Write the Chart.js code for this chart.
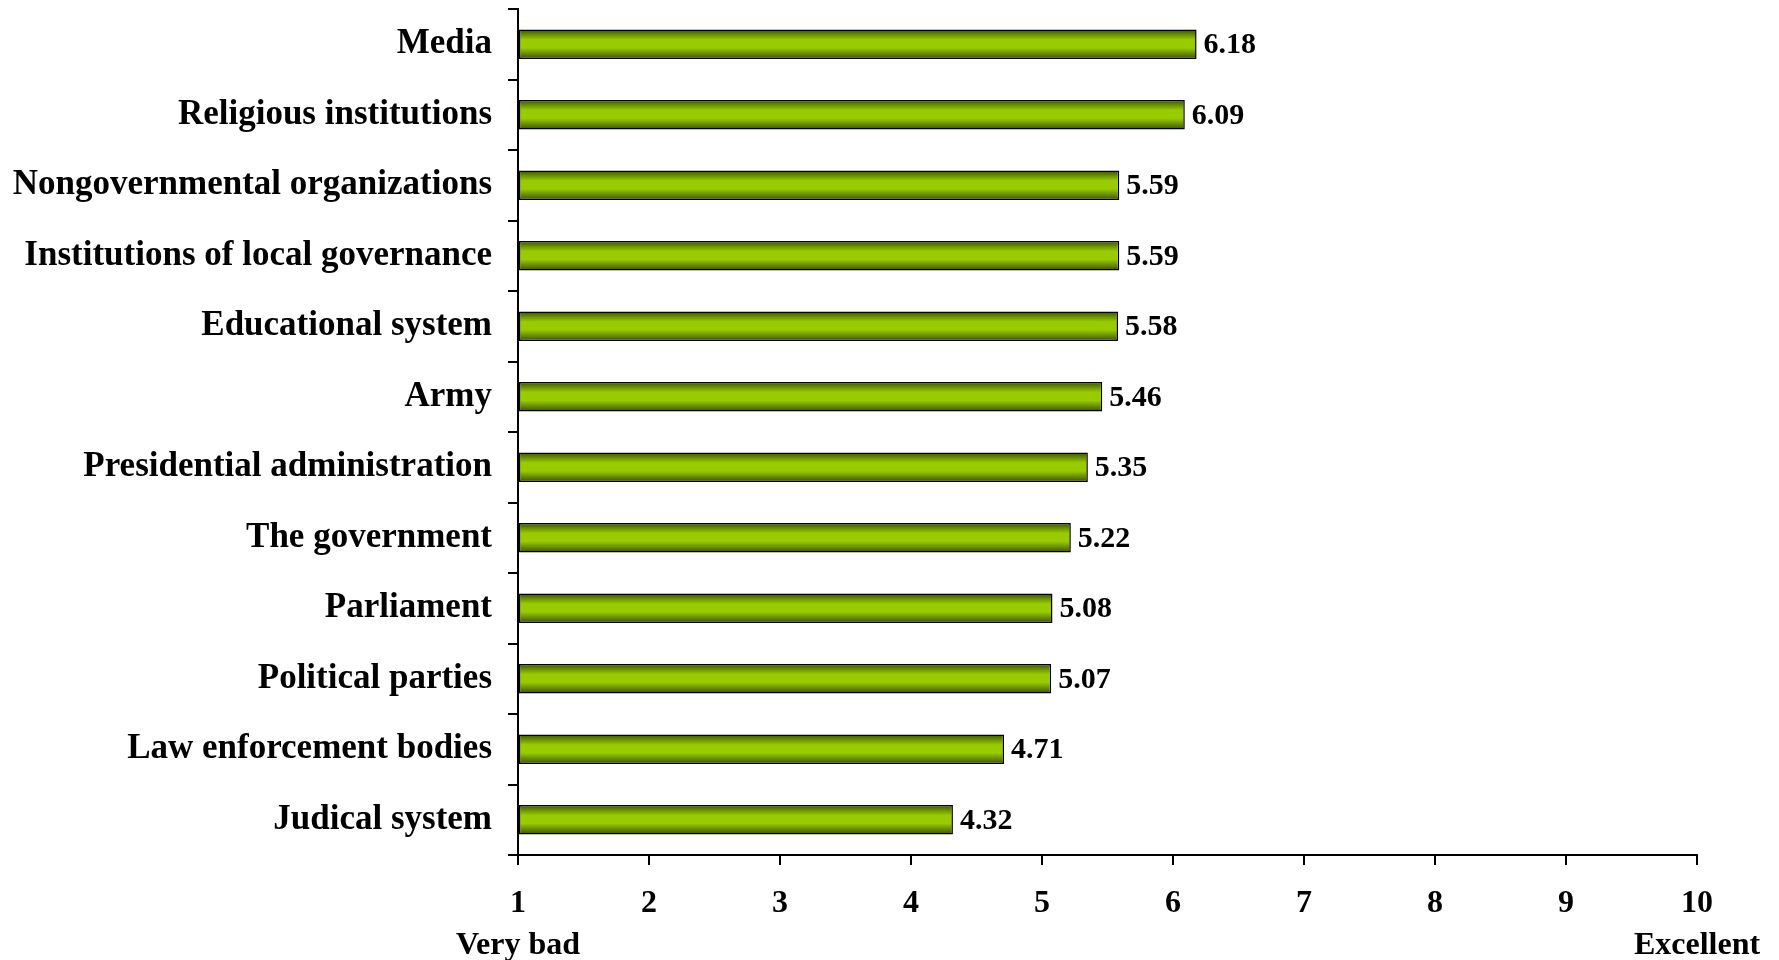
<!DOCTYPE html>
<html>
<head>
<meta charset="utf-8">
<script src="https://cdn.jsdelivr.net/npm/chart.js@4"></script>
<style>
  body { margin: 0; background: #fff; }
  #wrap { width: 1779px; height: 960px; }
</style>
</head>
<body>
<div id="wrap"><canvas id="ratingChart"></canvas></div>
<script>
const categories = [
  'Media', 'Religious institutions', 'Nongovernmental organizations',
  'Institutions of local governance', 'Educational system', 'Army',
  'Presidential administration', 'The government', 'Parliament',
  'Political parties', 'Law enforcement bodies', 'Judical system'
];
const scores = [6.18, 6.09, 5.59, 5.59, 5.58, 5.46, 5.35, 5.22, 5.08, 5.07, 4.71, 4.32];
const tickLabels = { 1: ['1', 'Very bad'], 10: ['10', 'Excellent'] };

const FONT = "'Liberation Serif', 'Times New Roman', serif";
const BAR_PCT = 0.42;

function barGradient(ctx) {
  const chart = ctx.chart;
  const yScale = chart.scales.y;
  if (!yScale || ctx.dataIndex === undefined) return '#99cc00';
  const center = yScale.getPixelForValue(ctx.dataIndex);
  const band = (yScale.bottom - yScale.top) / categories.length;
  const half = band * BAR_PCT / 2;
  if (!isFinite(center) || !isFinite(half) || half <= 0) return '#99cc00';
  const g = chart.ctx.createLinearGradient(0, center - half, 0, center + half);
  g.addColorStop(0, '#3a5200');
  g.addColorStop(0.35, '#99cc00');
  g.addColorStop(0.62, '#99cc00');
  g.addColorStop(1, '#3a5200');
  return g;
}

// value labels to the right of each bar
const valueLabels = {
  id: 'valueLabels',
  afterDatasetsDraw(chart) {
    const { ctx } = chart;
    const meta = chart.getDatasetMeta(0);
    ctx.save();
    ctx.font = 'bold 30px ' + FONT;
    ctx.fillStyle = '#000';
    ctx.textAlign = 'left';
    ctx.textBaseline = 'middle';
    meta.data.forEach((bar, i) => {
      ctx.fillText(scores[i].toFixed(2), bar.x + 7, bar.y + 1);
    });
    ctx.restore();
  }
};

new Chart(document.getElementById('ratingChart'), {
  type: 'bar',
  data: {
    labels: categories,
    datasets: [{
      data: scores,
      base: 1,
      backgroundColor: barGradient,
      borderColor: '#000',
      borderWidth: 1.5,
      borderSkipped: false,
      categoryPercentage: 1,
      barPercentage: BAR_PCT
    }]
  },
  options: {
    indexAxis: 'y',
    responsive: true,
    maintainAspectRatio: false,
    animation: false,
    layout: { padding: { top: 9, right: 82, bottom: 0, left: 0 } },
    plugins: {
      legend: { display: false },
      tooltip: { enabled: false }
    },
    scales: {
      x: {
        min: 1,
        max: 10,
        afterFit(scale) {
          scale.height = 105;
          scale.paddingLeft = 0;
          scale.paddingRight = 0;
        },
        ticks: {
          stepSize: 1,
          autoSkip: false,
          maxRotation: 0,
          minRotation: 0,
          color: '#000',
          padding: 18,
          font: { family: FONT, size: 32, weight: 'bold', lineHeight: 1.3 },
          callback: (v) => tickLabels[v] || String(v)
        },
        grid: {
          drawOnChartArea: false,
          color: '#000',
          lineWidth: 2,
          tickLength: 10
        },
        border: { color: '#000', width: 2 }
      },
      y: {
        afterFit(scale) {
          scale.width = 518;
          scale.paddingTop = 0;
          scale.paddingBottom = 0;
        },
        ticks: {
          color: '#000',
          padding: 16,
          font: { family: FONT, size: 35, weight: 'bold' }
        },
        grid: {
          offset: true,
          drawOnChartArea: false,
          color: '#000',
          lineWidth: 2,
          tickLength: 10
        },
        border: { color: '#000', width: 2 }
      }
    }
  },
  plugins: [valueLabels]
});
</script>
</body>
</html>
